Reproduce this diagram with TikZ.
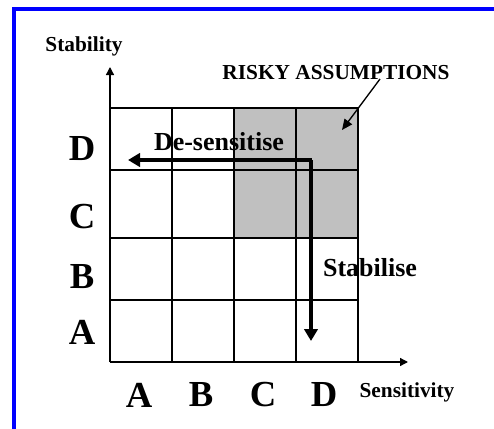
\documentclass[tikz,border=0pt]{standalone}
\usepackage{fontspec}
\setmainfont{Liberation Serif}
\usetikzlibrary{arrows.meta}
\definecolor{cRisk}{RGB}{192,192,192}
\definecolor{cFrame}{RGB}{0,0,255}

\begin{document}
\begin{tikzpicture}[x=0.75pt,y=-0.75pt,
   axlab/.style={font=\fontsize{16}{18}\selectfont\bfseries,inner sep=0pt},
   grade/.style={font=\fontsize{27.5}{30}\selectfont\bfseries,inner sep=0pt},
   move/.style={font=\fontsize{19.5}{22}\selectfont\bfseries,inner sep=0pt},
   gridline/.style={line width=1.3pt},
   axis/.style={line width=1pt,-{Triangle[length=6pt,width=6pt]}},
   push/.style={line width=3pt,-{Triangle[length=9pt,width=10pt]}}]
  \useasboundingbox (0,0) rectangle (494,429);
  \draw[cFrame,line width=3pt] (14,440) -- (14,9) -- (500,9);
  % risky cells
  \fill[cRisk] (234,108) rectangle (358,238);
  \foreach \x in {110,172,234,296,358}
    \draw[gridline] (\x,108) -- (\x,362);
  \foreach \y in {108,170,238,300,362}
    \draw[gridline] (110,\y) -- (358,\y);
  % axes
  \coordinate (O) at (110,362);
  \coordinate (ytip) at (110,67);
  \coordinate (xtip) at (408,362);
  \draw[axis] (O) -- (ytip);
  \draw[axis] (O) -- (xtip);
  \node[axlab] (stab) at (84,46) {Stability};
  \node[axlab] (sens) at (407,392) {Sensitivity};
  % grades
  \node[grade] (rD) at (82,149) {D};
  \node[grade] (rC) at (82,217) {C};
  \node[grade] (rB) at (82,277) {B};
  \node[grade] (rA) at (82,332) {A};
  \node[grade] (cA) at (139,395) {A};
  \node[grade] (cB) at (201,395) {B};
  \node[grade] (cC) at (263,395) {C};
  \node[grade] (cD) at (324,395) {D};
  % risky assumptions
  \node[axlab] (risky) at (336,73) {RISKY ASSUMPTIONS};
  \coordinate (rtail) at (380,79);
  \coordinate (rcell) at (342,130);
  \draw[line width=1pt,-{Triangle[length=8pt,width=7pt]}] (rtail) -- (rcell);
  % moves
  \coordinate (start) at (311,160);
  \coordinate (left) at (128,160);
  \coordinate (down) at (311,341);
  \node[move] (desens) at (219,142) {De-sensitise};
  \node[move] (stabil) at (370,268) {Stabilise};
  \draw[push] ([xshift=1.1pt]start) -- (left);
  \draw[push] (start) -- (down);
\end{tikzpicture}
\end{document}
